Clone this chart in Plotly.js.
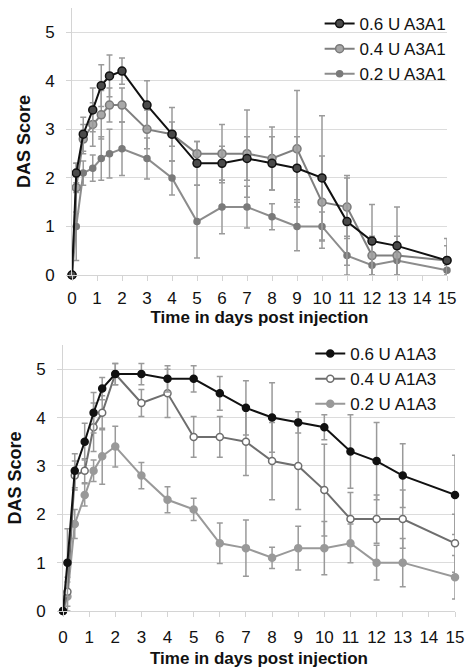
<!DOCTYPE html>
<html><head><meta charset="utf-8">
<script src="https://cdn.plot.ly/plotly-3.0.1.min.js"></script>
<style>html,body{margin:0;padding:0;background:#fff}#chart{width:468px;height:669px}</style>
</head><body><div id="chart"></div>
<script>
// Time points (days post injection)
const days = [0, 0.17, 0.45, 0.83, 1.17, 1.5, 2, 3, 4, 5, 6, 7, 8, 9, 10, 11, 12, 13, 15];
const tickVals = [0,1,2,3,4,5,6,7,8,9,10,11,12,13,14,15];

// Top panel: A3A1
const a3a1_06 = [0, 2.1, 2.9, 3.4, 3.9, 4.1, 4.2, 3.5, 2.9, 2.3, 2.3, 2.4, 2.3, 2.2, 2.0, 1.1, 0.7, 0.6, 0.3];
const a3a1_06_err = [0, 0.2, 0.35, 0.45, 0.43, 0.43, 0.27, 0.5, 0.55, 0.45, 0.35, 0.45, 0.55, 0.65, 1.28, 0.9, 0.75, 0.8, 0.45];
const a3a1_04 = [0, 1.8, 2.8, 3.1, 3.3, 3.5, 3.5, 3.0, 2.9, 2.5, 2.5, 2.5, 2.4, 2.6, 1.5, 1.4, 0.4, 0.4, 0.3];
const a3a1_04_err = [0, 0.5, 0.3, 0.45, 0.5, 0.35, 0.35, 0.4, 0.25, 0.25, 0.6, 0.9, 0.65, 1.2, 0.95, 0.65, 0.4, 0.4, 0.3];
const a3a1_02 = [0, 1.0, 2.1, 2.2, 2.4, 2.5, 2.6, 2.4, 2.0, 1.1, 1.4, 1.4, 1.2, 1.0, 1.0, 0.4, 0.2, 0.3, 0.1];
const a3a1_02_err = [0, 0.7, 0.25, 0.27, 0.45, 0.5, 0.55, 0.42, 0.35, 0.75, 0.55, 0.43, 0.27, 0.5, 0.3, 0.4, 0.2, 0.3, 0.1];

// Bottom panel: A1A3
const a1a3_06 = [0, 1.0, 2.9, 3.5, 4.1, 4.6, 4.9, 4.9, 4.8, 4.8, 4.5, 4.2, 4.0, 3.9, 3.8, 3.3, 3.1, 2.8, 2.4];
const a1a3_06_err = [0, 0.7, 0.35, 0.38, 0.42, 0.23, 0.22, 0.22, 0.27, 0.27, 0.35, 0.56, 0.72, 0.22, 0.26, 0.76, 0.8, 0.66, 0.82];
const a1a3_04 = [0, 0.4, 2.8, 2.9, 3.8, 4.1, 4.9, 4.3, 4.5, 3.6, 3.6, 3.5, 3.1, 3.0, 2.5, 1.9, 1.9, 1.9, 1.4];
const a1a3_04_err = [0, 0.3, 0.3, 0.25, 0.5, 0.35, 0.22, 0.28, 0.5, 0.42, 0.42, 0.7, 0.8, 0.9, 0.95, 0.55, 0.5, 0.6, 0.6];
const a1a3_02 = [0, 0.3, 1.8, 2.4, 2.9, 3.2, 3.4, 2.8, 2.3, 2.1, 1.4, 1.3, 1.1, 1.3, 1.3, 1.4, 1.0, 1.0, 0.7];
const a1a3_02_err = [0, 0.3, 0.3, 0.23, 0.22, 0.58, 0.42, 0.27, 0.27, 0.23, 0.42, 0.58, 0.22, 0.45, 0.55, 0.4, 0.36, 0.5, 0.45];

const names = {
  t06: '0.6 U A3A1', t04: '0.4 U A3A1', t02: '0.2 U A3A1',
  b06: '0.6 U A1A3', b04: '0.4 U A1A3', b02: '0.2 U A1A3'
};

const errStyle = (arr) => ({type:'data', array: arr, visible:true, color:'#9a9a9a', thickness:1.5, width:3});

function tr(y, err, name, xa, ya, legend, lineColor, mFill, mLine, mSize) {
  return {
    x: days, y: y, name: name, type: 'scatter', mode: 'lines+markers',
    xaxis: xa, yaxis: ya, legend: legend, cliponaxis: false,
    line: {color: lineColor, width: 2},
    marker: {color: mFill, size: mSize, line: {color: mLine, width: 1.5}},
    error_y: errStyle(err)
  };
}

const data = [
  tr(a3a1_02, a3a1_02_err, names.t02, 'x', 'y', 'legend', '#8c8c8c', '#7a7a7a', '#7a7a7a', 6),
  tr(a3a1_04, a3a1_04_err, names.t04, 'x', 'y', 'legend', '#7f7f7f', '#a8a8a8', '#7a7a7a', 8),
  tr(a3a1_06, a3a1_06_err, names.t06, 'x', 'y', 'legend', '#111111', '#4a4a4a', '#111111', 8),
  tr(a1a3_02, a1a3_02_err, names.b02, 'x2', 'y2', 'legend2', '#999999', '#999999', '#999999', 7),
  tr(a1a3_04, a1a3_04_err, names.b04, 'x2', 'y2', 'legend2', '#6e6e6e', '#ffffff', '#6e6e6e', 7),
  tr(a1a3_06, a1a3_06_err, names.b06, 'x2', 'y2', 'legend2', '#111111', '#111111', '#111111', 7)
];

const FONT = 'Liberation Sans, Arial, sans-serif';
const xBase = {
  range: [0, 15], tickvals: tickVals, ticktext: tickVals.map(String),
  showgrid: false, zeroline: false, showline: true, linecolor: '#d4d4d4', linewidth: 1,
  ticks: 'outside', ticklen: 5, tickcolor: '#d4d4d4', ticklabelstandoff: 6,
  tickfont: {family: FONT, size: 17, color: '#111'},
  title: {text: 'Time in days post injection', font: {family: FONT, size: 17, color: '#111', weight: 'bold'}, standoff: 2}
};
const yBase = {
  range: [0, 5.5], tickvals: [0,1,2,3,4,5],
  showgrid: true, gridcolor: '#dcdcdc', gridwidth: 1, zeroline: false,
  showline: true, linecolor: '#d4d4d4', linewidth: 1,
  ticks: 'outside', ticklen: 5, tickcolor: '#d4d4d4', ticklabelstandoff: 8,
  tickfont: {family: FONT, size: 17, color: '#111'},
  title: {text: 'DAS Score', font: {family: FONT, size: 18, color: '#111', weight: 'bold'}, standoff: 9}
};

const layout = {
  width: 468, height: 669,
  margin: {l: 0, r: 0, t: 0, b: 0},
  paper_bgcolor: '#fff', plot_bgcolor: '#fff',
  showlegend: true,
  xaxis: Object.assign({}, xBase, {domain: [72/468, 447/468], anchor: 'y', ticklabelstandoff: 3,
    title: Object.assign({}, xBase.title, {standoff: 0})}),
  yaxis: Object.assign({}, yBase, {domain: [1 - 275/669, 1 - 8/669], anchor: 'x'}),
  xaxis2: Object.assign({}, xBase, {domain: [63/468, 455/468], anchor: 'y2', ticklabelstandoff: 6,
    title: Object.assign({}, xBase.title, {standoff: 5})}),
  yaxis2: Object.assign({}, yBase, {domain: [1 - 611/669, 1 - 345/669], anchor: 'x2'}),
  legend: {x: 0.965, xanchor: 'right', y: 1 - 6/669, yanchor: 'top', bgcolor: 'rgba(0,0,0,0)',
    traceorder: 'reversed', font: {family: FONT, size: 17, color: '#111'}, tracegroupgap: 0, itemwidth: 30},
  legend2: {x: 0.945, xanchor: 'right', y: 1 - 336/669, yanchor: 'top', bgcolor: 'rgba(0,0,0,0)',
    traceorder: 'reversed', font: {family: FONT, size: 17, color: '#111'}, tracegroupgap: 0, itemwidth: 30}
};

Plotly.newPlot('chart', data, layout, {staticPlot: true, displayModeBar: false});
</script>
</body></html>
